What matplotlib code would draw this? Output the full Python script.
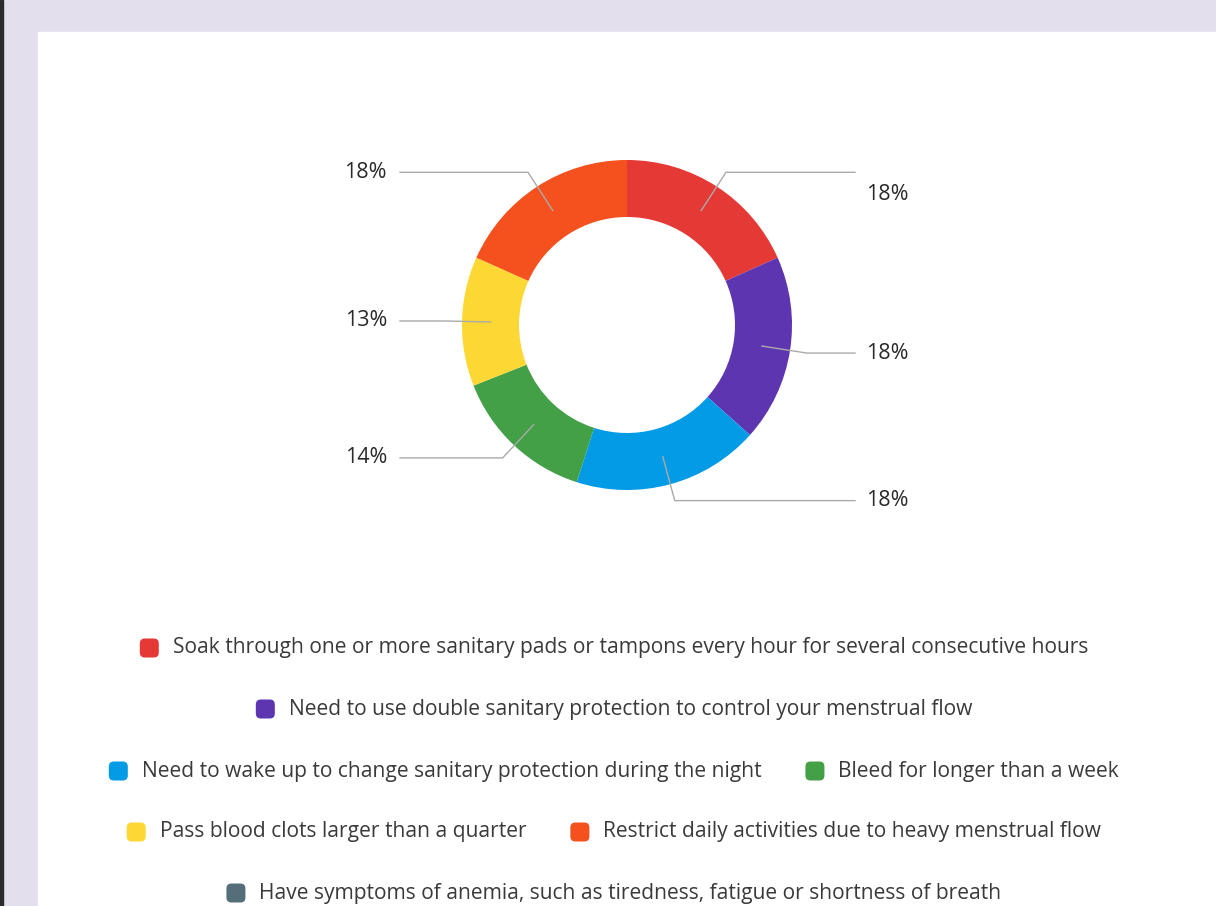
import numpy as np
import matplotlib.pyplot as plt
from matplotlib.patches import Rectangle, FancyBboxPatch

plt.rcParams['font.family'] = ['Open Sans', 'DejaVu Sans']

# responses per symptom (shares shown as rounded percentages)
labels = [
    'Soak through one or more sanitary pads or tampons every hour for several consecutive hours',
    'Need to use double sanitary protection to control your menstrual flow',
    'Need to wake up to change sanitary protection during the night',
    'Bleed for longer than a week',
    'Pass blood clots larger than a quarter',
    'Restrict daily activities due to heavy menstrual flow',
    'Have symptoms of anemia, such as tiredness, fatigue or shortness of breath',
]
counts = [13, 13, 13, 10, 9, 13, 0]
colors = ['#e53935', '#5e35b1', '#039be5', '#43a047', '#fdd835', '#f4511e', '#546e7a']
legend_rows = [[0], [1], [2, 3], [4, 5], [6]]

W, H = 1216, 906
fig = plt.figure(figsize=(W / 100, H / 100), dpi=100, facecolor='#e4dfec')
ax = fig.add_axes([0, 0, 1, 1])
ax.axis('off')

ax.add_patch(Rectangle((0, 0), 3, H, color='#2b2b2b', zorder=0))
ax.add_patch(Rectangle((38, 32), W - 38, H - 32, color='white', zorder=0))

cx, cy, r_out, r_in = 627, 325, 165, 108
wedges, _ = ax.pie(counts, colors=colors, center=(cx, cy), radius=r_out,
                   startangle=-90, counterclock=True,
                   wedgeprops=dict(width=r_out - r_in, linewidth=0))
ax.set_xlim(0, W)
ax.set_ylim(H, 0)
ax.set_aspect('auto')

total = sum(counts)
for i, w in enumerate(wedges):
    if counts[i] == 0:
        continue
    th = np.deg2rad((w.theta1 + w.theta2) / 2)
    r_mid = (r_out + r_in) / 2
    x1, y1 = cx + r_mid * np.cos(th), cy + r_mid * np.sin(th)
    x2, y2 = cx + 182 * np.cos(th), cy + 182 * np.sin(th)
    right = np.cos(th) > 0
    x3 = 855 if right else 400
    ax.plot([x1, x2, x3], [y1, y2, y2], color='#aaaaaa', lw=1, zorder=3)
    pct = f'{round(100 * counts[i] / total)}%'
    ty = y2 + (22 if (right and y2 < cy - 100) else 0)
    ax.text(x3 + 11 if right else x3 - 13, ty, pct, ha='left' if right else 'right',
            va='center', fontsize=15.5, color='#2a2a2a')

# legend rows, centred under the chart
fig.canvas.draw()
renderer = fig.canvas.get_renderer()
row_y = [648, 709, 771, 832, 893]
sw, gap_txt, gap_item = 19, 14, 44
for row, y in zip(legend_rows, row_y):
    texts, widths = [], []
    for i in row:
        t = ax.text(0, y, labels[i], fontsize=15.1, color='#3a3a3a', va='center', ha='left')
        widths.append(t.get_window_extent(renderer).width)
        texts.append(t)
    total_w = sum(sw + gap_txt + tw for tw in widths) + gap_item * (len(row) - 1)
    x = 614 - total_w / 2
    for i, t, tw in zip(row, texts, widths):
        ax.add_patch(FancyBboxPatch((x + 3, y - sw / 2 + 3), sw - 6, sw - 6,
                                    boxstyle='round,pad=3,rounding_size=5',
                                    fc=colors[i], ec='none'))
        t.set_x(x + sw + gap_txt)
        x += sw + gap_txt + tw + gap_item

fig.savefig('out.png', dpi=100, facecolor=fig.get_facecolor())
